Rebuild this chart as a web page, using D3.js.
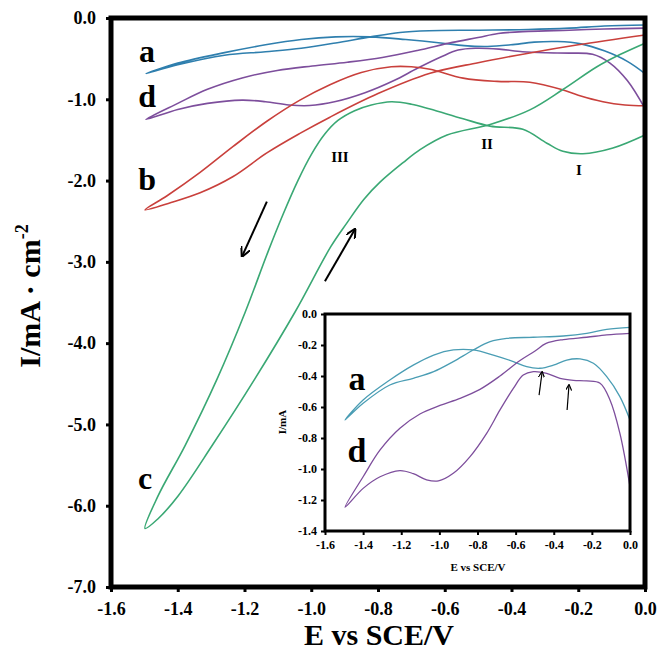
<!DOCTYPE html>
<html>
<head>
<meta charset="utf-8">
<script src="https://cdn.jsdelivr.net/npm/d3@7"></script>
<style>
  body { margin: 0; background: #fff; }
  svg { display: block; font-family: "Liberation Serif", "Times New Roman", serif; font-weight: bold; }
</style>
</head>
<body>
<svg id="chart"></svg>
<script>
// curve a (blue): E / I along the scan
var aE = [0, -0.122, -0.227, -0.35, -0.507, -0.647, -0.734, -0.822, -0.927, -1.03, -1.137, -1.26, -1.40, -1.495,
          -1.40, -1.26, -1.137, -1.03, -0.927, -0.822, -0.717, -0.612, -0.542, -0.472, -0.402, -0.332, -0.262, -0.192, -0.122, -0.053, 0];
var aI = [-0.086, -0.099, -0.125, -0.142, -0.15, -0.157, -0.178, -0.232, -0.307, -0.372, -0.415, -0.458, -0.576, -0.684,
          -0.555, -0.426, -0.33, -0.265, -0.232, -0.232, -0.265, -0.307, -0.34, -0.35, -0.33, -0.297, -0.29, -0.318, -0.404, -0.533, -0.684];

// curve b (red)
var bE = [0, -0.2, -0.345, -0.5, -0.644, -0.8, -0.944, -1.034, -1.133, -1.234, -1.333, -1.42, -1.498,
          -1.433, -1.333, -1.234, -1.133, -1.034, -0.944, -0.85, -0.76, -0.70, -0.644, -0.545, -0.443, -0.345, -0.25, -0.2, -0.126, -0.06, 0];
var bI = [-0.21, -0.33, -0.43, -0.55, -0.68, -0.93, -1.22, -1.42, -1.66, -1.95, -2.15, -2.27, -2.36,
          -2.19, -1.90, -1.58, -1.27, -1.01, -0.82, -0.67, -0.60, -0.60, -0.63, -0.74, -0.78, -0.79, -0.88, -0.95, -1.03, -1.07, -1.08];

// curve c (green)
var cE = [0, -0.075, -0.144, -0.246, -0.345, -0.464, -0.593, -0.674, -0.725, -0.794, -0.842, -0.893, -0.941, -1.049, -1.169, -1.297, -1.399, -1.459, -1.498,
          -1.459, -1.378, -1.282, -1.198, -1.130, -1.085, -1.04, -1.0, -0.96, -0.92, -0.87, -0.82, -0.76, -0.70, -0.644, -0.545, -0.464, -0.366, -0.294, -0.246, -0.186, -0.096, 0];
var cI = [-0.31, -0.45, -0.60, -0.88, -1.13, -1.31, -1.44, -1.62, -1.78, -2.02, -2.23, -2.52, -2.81, -3.62, -4.44, -5.26, -5.88, -6.16, -6.28,
          -5.88, -5.26, -4.44, -3.62, -2.88, -2.42, -2.0, -1.68, -1.43, -1.26, -1.14, -1.07, -1.03, -1.06, -1.12, -1.24, -1.33, -1.37, -1.54, -1.64, -1.67, -1.60, -1.44];

// curve d (purple)
var dE = [0, -0.122, -0.227, -0.35, -0.44, -0.50, -0.577, -0.682, -0.787, -0.892, -0.997, -1.102, -1.207, -1.311, -1.40, -1.495,
          -1.40, -1.311, -1.207, -1.137, -1.067, -1.005, -0.927, -0.839, -0.752, -0.682, -0.612, -0.56, -0.507, -0.437, -0.367, -0.297, -0.227, -0.157, -0.105, -0.053, 0];
var dI = [-0.125, -0.135, -0.15, -0.165, -0.19, -0.24, -0.30, -0.40, -0.486, -0.544, -0.59, -0.645, -0.737, -0.877, -1.05, -1.247,
          -1.125, -1.05, -1.01, -1.03, -1.07, -1.077, -1.028, -0.92, -0.77, -0.619, -0.48, -0.394, -0.372, -0.383, -0.415, -0.428, -0.432, -0.447, -0.555, -0.77, -1.114];

var xTicks = [-1.6, -1.4, -1.2, -1.0, -0.8, -0.6, -0.4, -0.2, 0.0];
var yTicks = [-7, -6, -5, -4, -3, -2, -1, 0];
var insetYTicks = [-1.4, -1.2, -1.0, -0.8, -0.6, -0.4, -0.2, 0.0];

// curve labels and peak labels
var curveNames = ['a', 'd', 'b', 'c'];
var curveNameE = [-1.492, -1.492, -1.492, -1.498];
var curveNameI = [-0.54, -1.10, -2.11, -5.79];
var peakNames = ['III', 'II', 'I'];
var peakE = [-0.914, -0.473, -0.198];
var peakI = [-1.77, -1.61, -1.93];
var insetNames = ['a', 'd'];
var insetNameE = [-1.432, -1.432];
var insetNameI = [-0.49, -0.955];

// scan direction arrows [E0, I0, E1, I1]
var arrows = [[-1.133, -2.26, -1.207, -2.93], [-0.959, -3.24, -0.869, -2.60]];
var insetArrows = [[-0.477, -0.523, -0.461, -0.374], [-0.330, -0.619, -0.320, -0.458]];

var colA = '#2f7fae', colB = '#c9403c', colC = '#3aa874', colD = '#7d4e9c', colAInset = '#4a9db4';

var W = 660, H = 661;
var svg = d3.select('#chart').attr('width', W).attr('height', H);

svg.append('defs').append('marker')
  .attr('id', 'head')
  .attr('viewBox', '0 0 10 10')
  .attr('refX', 9).attr('refY', 5)
  .attr('markerWidth', 5).attr('markerHeight', 5)
  .attr('orient', 'auto')
  .append('path')
  .attr('d', 'M0,0 L10,5 L0,10')
  .attr('fill', 'none').attr('stroke', '#000').attr('stroke-width', 2);

var x = d3.scaleLinear().domain([-1.6, 0]).range([111, 645]);
var y = d3.scaleLinear().domain([-7, 0]).range([587, 18]);

var fmt = function(d) { return d.toFixed(1); };

var zip = function(es, is) { return es.map(function(e, i) { return [e, is[i]]; }); };

var drawCurves = function(g, xs, ys, list, width) {
  var line = d3.line()
    .x(function(d) { return xs(d[0]); })
    .y(function(d) { return ys(d[1]); })
    .curve(d3.curveCatmullRom.alpha(0.5));
  list.forEach(function(c) {
    g.append('path')
      .attr('d', line(zip(c[0], c[1])))
      .attr('fill', 'none')
      .attr('stroke', c[2])
      .attr('stroke-width', width);
  });
};

// main curves
drawCurves(svg.append('g'), x, y, [
  [aE, aI, colA], [dE, dI, colD], [bE, bI, colB], [cE, cI, colC]
], 1.6);

// main axes
var xAxis = svg.append('g')
  .attr('transform', 'translate(0,587)')
  .call(d3.axisBottom(x).tickValues(xTicks).tickFormat(fmt).tickSize(5).tickPadding(10));
var yAxis = svg.append('g')
  .attr('transform', 'translate(111,0)')
  .call(d3.axisLeft(y).tickValues(yTicks).tickFormat(fmt).tickSize(5).tickPadding(10));
[xAxis, yAxis].forEach(function(ax) {
  ax.select('.domain').remove();
  ax.selectAll('line').attr('stroke-width', 3);
  ax.selectAll('text').attr('font-size', 18).attr('font-family', 'Liberation Serif').attr('font-weight', 'bold').attr('fill', '#000');
});

svg.append('rect')
  .attr('x', 111).attr('y', 18).attr('width', 534).attr('height', 569)
  .attr('fill', 'none').attr('stroke', '#000').attr('stroke-width', 5);

// axis titles
svg.append('text')
  .attr('x', 379).attr('y', 645)
  .attr('text-anchor', 'middle').attr('font-size', 30)
  .text('E vs SCE/V');
var yt = svg.append('text')
  .attr('transform', 'translate(40,296) rotate(-90)')
  .attr('text-anchor', 'middle').attr('font-size', 30);
yt.append('tspan').text('I/mA \u00b7 cm');
yt.append('tspan').attr('font-size', 18).attr('dy', -12).text('-2');

// curve names
svg.selectAll('text.cname')
  .data(curveNames)
  .enter().append('text')
  .attr('class', 'cname')
  .attr('x', function(d, i) { return x(curveNameE[i]); })
  .attr('y', function(d, i) { return y(curveNameI[i]); })
  .attr('text-anchor', 'middle').attr('font-size', 32)
  .text(function(d) { return d; });

svg.selectAll('text.peak')
  .data(peakNames)
  .enter().append('text')
  .attr('class', 'peak')
  .attr('x', function(d, i) { return x(peakE[i]); })
  .attr('y', function(d, i) { return y(peakI[i]); })
  .attr('text-anchor', 'middle').attr('font-size', 15)
  .text(function(d) { return d; });

arrows.forEach(function(a) {
  svg.append('line')
    .attr('x1', x(a[0])).attr('y1', y(a[1]))
    .attr('x2', x(a[2])).attr('y2', y(a[3]))
    .attr('stroke', '#000').attr('stroke-width', 2)
    .attr('marker-end', 'url(#head)');
});

// inset
var ix = d3.scaleLinear().domain([-1.6, 0]).range([325, 630]);
var iy = d3.scaleLinear().domain([-1.4, 0]).range([531, 314]);
var inset = svg.append('g');
inset.append('rect')
  .attr('x', 325).attr('y', 314).attr('width', 305).attr('height', 217)
  .attr('fill', '#fff');

drawCurves(inset, ix, iy, [[aE, aI, colAInset], [dE, dI, colD]], 1.3);

var ixAxis = inset.append('g')
  .attr('transform', 'translate(0,531)')
  .call(d3.axisBottom(ix).tickValues(xTicks).tickFormat(fmt).tickSize(4).tickPadding(5));
var iyAxis = inset.append('g')
  .attr('transform', 'translate(325,0)')
  .call(d3.axisLeft(iy).tickValues(insetYTicks).tickFormat(fmt).tickSize(4).tickPadding(4));
[ixAxis, iyAxis].forEach(function(ax) {
  ax.select('.domain').remove();
  ax.selectAll('line').attr('stroke-width', 2);
  ax.selectAll('text').attr('font-size', 12).attr('font-family', 'Liberation Serif').attr('font-weight', 'bold').attr('fill', '#000');
});
inset.append('rect')
  .attr('x', 325).attr('y', 314).attr('width', 305).attr('height', 217)
  .attr('fill', 'none').attr('stroke', '#000').attr('stroke-width', 3);

inset.append('text')
  .attr('x', 478).attr('y', 571)
  .attr('text-anchor', 'middle').attr('font-size', 11)
  .text('E vs SCE/V');
inset.append('text')
  .attr('transform', 'translate(286,422) rotate(-90)')
  .attr('text-anchor', 'middle').attr('font-size', 11)
  .text('I/mA');

inset.selectAll('text.iname')
  .data(insetNames)
  .enter().append('text')
  .attr('class', 'iname')
  .attr('x', function(d, i) { return ix(insetNameE[i]); })
  .attr('y', function(d, i) { return iy(insetNameI[i]); })
  .attr('text-anchor', 'middle').attr('font-size', 34)
  .text(function(d) { return d; });

insetArrows.forEach(function(a) {
  inset.append('line')
    .attr('x1', ix(a[0])).attr('y1', iy(a[1]))
    .attr('x2', ix(a[2])).attr('y2', iy(a[3]))
    .attr('stroke', '#000').attr('stroke-width', 1.2)
    .attr('marker-end', 'url(#head)');
});
</script>
</body>
</html>
